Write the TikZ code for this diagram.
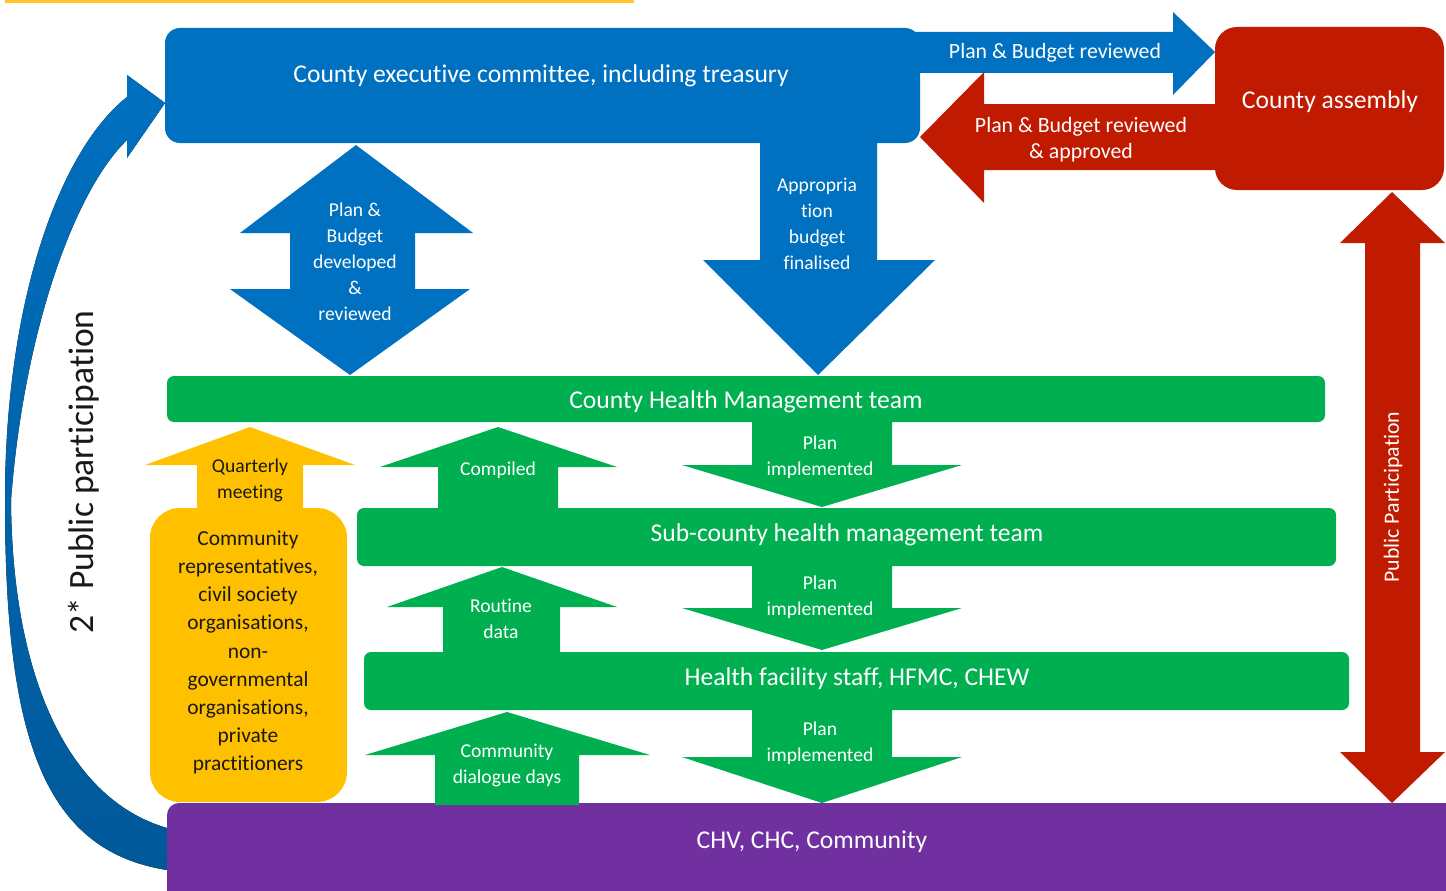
\documentclass[tikz,border=0pt]{standalone}
\usepackage{fontspec}
\setmainfont{Carlito}[Ligatures={NoCommon}]
\definecolor{cblue}{RGB}{0,112,192}
\definecolor{cbluedark}{RGB}{0,88,152}
\definecolor{cred}{RGB}{192,26,0}
\definecolor{cgreen}{RGB}{0,176,80}
\definecolor{cyellow}{RGB}{255,192,0}
\definecolor{cline}{RGB}{255,200,40}
\definecolor{cpurple}{RGB}{112,48,160}
\definecolor{ctext}{RGB}{25,25,25}
\begin{document}
\begin{tikzpicture}[x=1pt,y=-1pt,
  box/.style={rectangle, draw=none, inner sep=0pt, outer sep=0pt},
  txtL/.style={font=\fontsize{25.6}{30}\selectfont, text=white, inner sep=0pt},
  txtM/.style={font=\fontsize{21.8}{26}\selectfont, text=white, align=center, inner sep=0pt},
  txtS/.style={font=\fontsize{19.6}{26}\selectfont, text=white, align=center, inner sep=0pt},
  txtY/.style={font=\fontsize{21.4}{28.2}\selectfont, text=ctext, align=center, inner sep=0pt}
]
\useasboundingbox (0,0) rectangle (1446,891);
\fill[white] (0,0) rectangle (1446,891);

% top yellow line
\fill[cline] (5,0) rectangle (634,3);

% curved public participation arrow
\fill[top color=cblue, bottom color=cbluedark]
  (167,870) .. controls (40,850) and (5,730) .. (5,500)
  .. controls (5,300) and (60,150) .. (127,97)
  -- (127,75) -- (165,103) -- (127,158) -- (127,140)
  .. controls (75,190) and (24,330) .. (11,500)
  .. controls (12,680) and (70,800) .. (167,828) -- cycle;

% arrows top
\fill[cblue] (905,32) -- (1173,32) -- (1173,12) -- (1215,52) -- (1173,95) -- (1173,73) -- (905,73) -- cycle;
\fill[cred] (920,137) -- (984,72) -- (984,104) -- (1225,104) -- (1225,170) -- (984,170) -- (984,203) -- cycle;

% boxes
\node[box, fill=cblue, rounded corners=15pt, minimum width=755pt, minimum height=115pt] (cec) at (542.5,85.5) {};
\node[box, fill=cred, rounded corners=22pt, minimum width=229pt, minimum height=163pt] (ca) at (1329.5,108.5) {};
\node[box, fill=cgreen, rounded corners=7pt, minimum width=1158pt, minimum height=46pt] (chmt) at (746,399) {};
\node[box, fill=cgreen, rounded corners=7pt, minimum width=979pt, minimum height=58pt] (schmt) at (846.5,537) {};
\node[box, fill=cgreen, rounded corners=7pt, minimum width=985pt, minimum height=58pt] (hf) at (856.5,681) {};
\node[box, fill=cpurple, rounded corners=12pt, minimum width=1293pt, minimum height=102pt] (chv) at (813.5,854) {};

% blue double arrow
\fill[cblue] (356,145) -- (473,233) -- (415,233) -- (415,289) -- (470,289) -- (350,375) -- (230,289) -- (290,289) -- (290,233) -- (240,233) -- cycle;
% appropriation arrow
\fill[cblue] (760,140) -- (877,140) -- (877,260) -- (935,260) -- (818,375) -- (703,260) -- (760,260) -- cycle;

% quarterly arrow and community box
\fill[cyellow] (250,427) -- (355,465) -- (303,465) -- (303,515) -- (197,515) -- (197,465) -- (145,465) -- cycle;
\node[box, fill=cyellow, rounded corners=30pt, minimum width=197pt, minimum height=294pt] (comm) at (248.5,655) {};

% green up arrows
\fill[cgreen] (498,427) -- (617,467) -- (558,467) -- (558,510) -- (438,510) -- (438,467) -- (380,467) -- cycle;
\fill[cgreen] (502,567) -- (617,607) -- (560,607) -- (560,654) -- (443,654) -- (443,607) -- (387,607) -- cycle;
\fill[cgreen] (507,712) -- (650,755) -- (579,755) -- (579,805) -- (435,805) -- (435,755) -- (365,755) -- cycle;

% green down arrows
\fill[cgreen] (752,421) -- (892,421) -- (892,465) -- (962,465) -- (822,507) -- (682,465) -- (752,465) -- cycle;
\fill[cgreen] (752,564) -- (892,564) -- (892,608) -- (962,608) -- (822,650) -- (682,608) -- (752,608) -- cycle;
\fill[cgreen] (752,708) -- (892,708) -- (892,757) -- (962,757) -- (822,803) -- (682,757) -- (752,757) -- cycle;

% right red double arrow
\fill[cred] (1392,192) -- (1445,243) -- (1420,243) -- (1420,752) -- (1445,752) -- (1392,803) -- (1340,752) -- (1365,752) -- (1365,243) -- (1340,243) -- cycle;

% texts
\node[txtL] (tcec) at (541,76) {County executive committee, including treasury};
\node[txtL] (tca) at (1330,102) {County assembly};
\node[txtM] (tpbr) at (1055,53) {Plan \& Budget reviewed};
\node[txtM] (tpbra) at (1081,140) {Plan \& Budget reviewed\\\& approved};
\node[txtS] (tdev) at (355,262) {Plan \&\\Budget\\developed\\\&\\reviewed};
\node[txtS] (tapp) at (817,224) {Appropria\\tion\\budget\\finalised};
\node[txtL] (tchmt) at (746,402) {County Health Management team};
\node[txtL] (tschmt) at (847,535) {Sub-county health management team};
\node[txtL] (thf) at (857,679) {Health facility staff, HFMC, CHEW};
\node[txtL] (tchv) at (812,842) {CHV, CHC, Community};
\node[txtS, text=ctext] (tq) at (250,480) {Quarterly\\meeting};
\node[txtY] (tcomm) at (248,652.5) {Community\\representatives,\\civil society\\organisations,\\non-\\governmental\\organisations,\\private\\practitioners};
\node[txtS] (tcomp) at (498,470) {Compiled};
\node[txtS] (trout) at (501,619) {Routine\\data};
\node[txtS] (tcdd) at (507,765) {Community\\dialogue days};
\node[txtS] (tpi1) at (820,457) {Plan\\implemented};
\node[txtS] (tpi2) at (820,597) {Plan\\implemented};
\node[txtS] (tpi3) at (820,743) {Plan\\implemented};
\node[txtM, rotate=90] (tpp) at (1393,497) {Public Participation};
\node[font=\fontsize{35.6}{40}\selectfont, text=ctext, inner sep=0pt, rotate=90] (tpp2) at (84,472) {2* Public participation};
\end{tikzpicture}
\end{document}
